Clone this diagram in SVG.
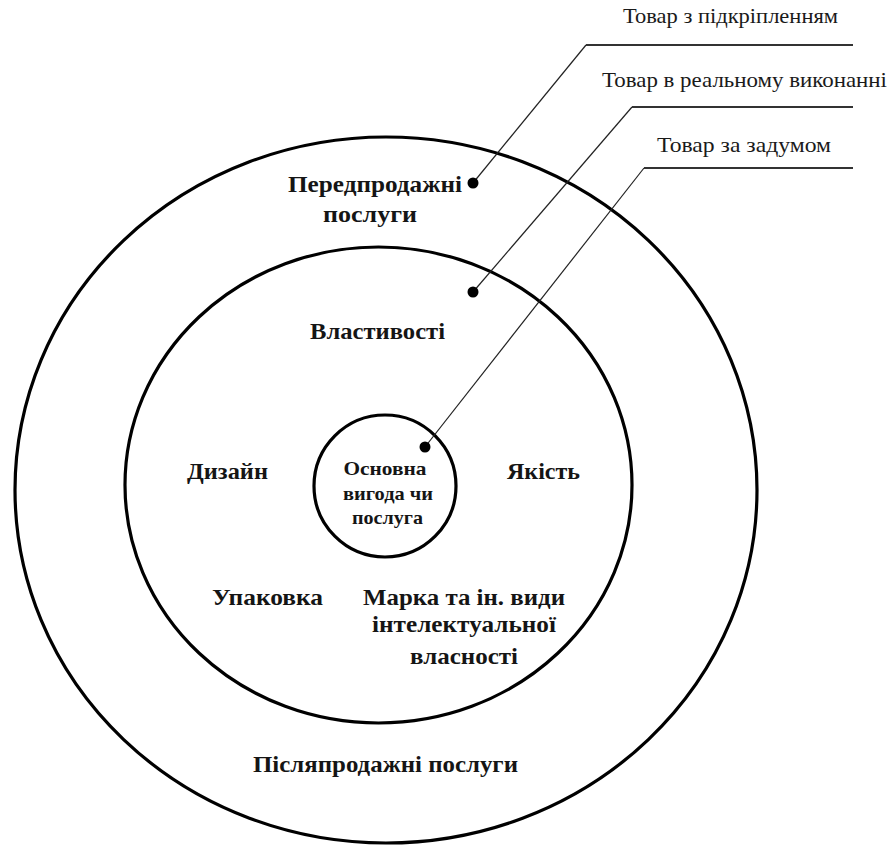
<svg xmlns="http://www.w3.org/2000/svg" width="888" height="846" viewBox="0 0 888 846">
<style>
.ring{fill:none;stroke:#000;stroke-width:3.2}
.lbl{font-family:"Liberation Serif","Times New Roman",serif;font-weight:bold;font-size:23px;fill:#151515;text-anchor:middle}
.in{font-size:19px}
.top{font-family:"Liberation Serif","Times New Roman",serif;font-size:21px;fill:#1a1a1a;text-anchor:middle}
.slant{fill:none;stroke:#222;stroke-width:1.2}
.hz{fill:none;stroke:#333;stroke-width:2}
.dot{fill:#000}
</style>
<rect width="888" height="846" fill="#fff"/>
<g id="outer">
<ellipse class="ring" cx="386" cy="490" rx="371" ry="353"/>
<text class="lbl" x="375" y="192" textLength="174" lengthAdjust="spacingAndGlyphs">Передпродажні</text>
<text class="lbl" x="370" y="222" textLength="94" lengthAdjust="spacingAndGlyphs">послуги</text>
<text class="lbl" x="385.5" y="772" textLength="265" lengthAdjust="spacingAndGlyphs">Післяпродажні послуги</text>
</g>
<g id="middle">
<ellipse class="ring" cx="378.5" cy="485" rx="253.5" ry="238"/>
<text class="lbl" x="377.5" y="339" textLength="135" lengthAdjust="spacingAndGlyphs">Властивості</text>
<text class="lbl" x="227.5" y="479" textLength="81" lengthAdjust="spacingAndGlyphs">Дизайн</text>
<text class="lbl" x="543.5" y="479" textLength="73" lengthAdjust="spacingAndGlyphs">Якість</text>
<text class="lbl" x="267.5" y="605" textLength="111" lengthAdjust="spacingAndGlyphs">Упаковка</text>
<text class="lbl" x="464" y="605" textLength="202" lengthAdjust="spacingAndGlyphs">Марка та ін. види</text>
<text class="lbl" x="464" y="632" textLength="184" lengthAdjust="spacingAndGlyphs">інтелектуальної</text>
<text class="lbl" x="464" y="664" textLength="108" lengthAdjust="spacingAndGlyphs">власності</text>
</g>
<g id="inner">
<ellipse class="ring" cx="385" cy="486" rx="71" ry="71"/>
<text class="lbl in" x="385" y="475" textLength="83" lengthAdjust="spacingAndGlyphs">Основна</text>
<text class="lbl in" x="388" y="500" textLength="90" lengthAdjust="spacingAndGlyphs">вигода чи</text>
<text class="lbl in" x="387.5" y="524" textLength="71" lengthAdjust="spacingAndGlyphs">послуга</text>
</g>
<g id="label-augmented">
<text class="top" x="730.5" y="23" textLength="215" lengthAdjust="spacingAndGlyphs">Товар з підкріпленням</text>
</g>
<g id="label-actual">
<text class="top" x="744.5" y="87" textLength="285" lengthAdjust="spacingAndGlyphs">Товар в реальному виконанні</text>
</g>
<g id="label-core">
<text class="top" x="744" y="152" textLength="174" lengthAdjust="spacingAndGlyphs">Товар за задумом</text>
</g>
<g id="connectors">
<polyline class="slant" points="473,183 586,45"/>
<line class="hz" x1="586" y1="45" x2="853" y2="45"/>
<polyline class="slant" points="473,292 632,107"/>
<line class="hz" x1="632" y1="107" x2="853" y2="107"/>
<polyline class="slant" points="425,447 644,168"/>
<line class="hz" x1="644" y1="168" x2="853" y2="168"/>
<circle class="dot" cx="473" cy="183" r="5.5"/>
<circle class="dot" cx="473" cy="292" r="5.5"/>
<circle class="dot" cx="425" cy="447" r="5.5"/>
</g>
</svg>
